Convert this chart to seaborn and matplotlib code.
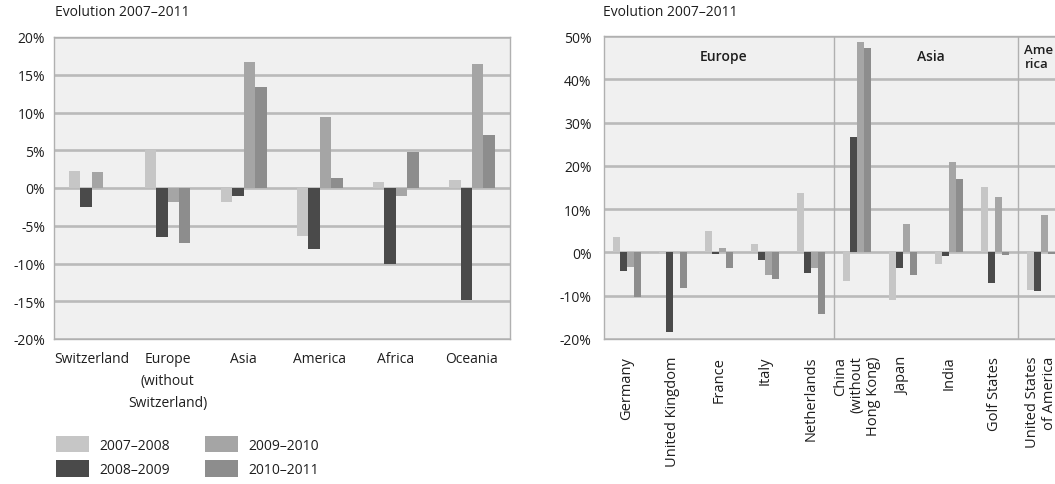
import matplotlib
matplotlib.use("Agg")
import matplotlib.pyplot as plt
import seaborn as sns
import pandas as pd
from matplotlib.patches import Patch
from matplotlib.ticker import FuncFormatter, MultipleLocator, FixedLocator

# ---- data ---------------------------------------------------------------
periods = ["2007–2008", "2008–2009", "2009–2010", "2010–2011"]
period_colors = ["#c6c6c6", "#4a4a4a", "#a5a5a5", "#8d8d8d"]

regions = ["Switzerland", "Europe\n(without\nSwitzerland)", "Asia",
           "America", "Africa", "Oceania"]
region_2007_08 = [2.3, 5.0, -1.9, -6.4, 0.8, 1.1]
region_2008_09 = [-2.5, -6.5, -1.0, -8.1, -10.0, -14.9]
region_2009_10 = [2.1, -1.9, 16.7, 9.4, -1.1, 16.4]
region_2010_11 = [0.0, -7.3, 13.4, 1.3, 4.8, 7.0]

countries = ["Germany", "United Kingdom", "France", "Italy", "Netherlands",
             "China\n(without\nHong Kong)", "Japan", "India", "Golf States",
             "United States\nof America"]
country_2007_08 = [3.6, -0.3, 5.0, 2.0, 13.8, -6.6, -10.9, -2.7, 15.1, -8.6]
country_2008_09 = [-4.3, -18.4, -0.3, -1.7, -4.8, 26.6, -3.7, -0.9, -7.1, -8.8]
country_2009_10 = [-3.3, 0.2, 1.0, -5.3, -3.5, 48.6, 6.6, 21.0, 12.8, 8.6]
country_2010_11 = [-10.3, -8.2, -3.6, -6.1, -14.2, 47.2, -5.3, 17.0, -0.6, -0.4]

country_groups = ["Europe", "Asia", "Ame\nrica"]
group_sizes = [5, 4, 1]

title_text = "Evolution 2007–2011"


def long_table(categories, series):
    rows = []
    for period, values in zip(periods, series):
        for cat, v in zip(categories, values):
            rows.append({"category": cat, "period": period, "value": v})
    return pd.DataFrame(rows)


# ---- style ----------------------------------------------------------------
sns.set_style("white")
plt.rcParams["font.family"] = ["Open Sans", "DejaVu Sans"]
plt.rcParams["font.size"] = 10
text_color = "#1e1e1e"
frame_color = "#b0b0b0"
grid_color = "#bababa"
panel_color = "#f0f0f0"
fs = 10

W, H = 1055, 485
fig = plt.figure(figsize=(W / 100, H / 100), dpi=100)
fig.patch.set_facecolor("white")


def px_axes(left, top, right, bottom):
    return fig.add_axes([left / W, 1 - bottom / H, (right - left) / W, (bottom - top) / H])


def style_axes(ax, step):
    ax.set_facecolor(panel_color)
    for s in ax.spines.values():
        s.set_color(frame_color)
        s.set_linewidth(1.0)
    ax.yaxis.set_major_locator(MultipleLocator(step))
    ax.yaxis.set_major_formatter(FuncFormatter(lambda v, p: f"{int(round(v))}%"))
    ax.grid(axis="y", color=grid_color, linewidth=1.9)
    ax.grid(axis="x", visible=False)
    ax.set_axisbelow(True)
    ax.set_xlabel("")
    ax.set_ylabel("")


# ---- left panel: regions ---------------------------------------------------
ax1 = px_axes(53.5, 38, 510, 340)
df1 = long_table(regions, [region_2007_08, region_2008_09, region_2009_10, region_2010_11])
sns.barplot(data=df1, x="category", y="value", hue="period", order=regions,
            hue_order=periods, palette=period_colors, saturation=1, width=0.6,
            linewidth=0, legend=False, ax=ax1)
style_axes(ax1, 5)
ax1.set_ylim(-20, 20)
ax1.set_xlim(-0.5, len(regions) - 0.5)
ax1.tick_params(axis="y", length=0, pad=6, labelsize=fs, labelcolor=text_color)
ax1.tick_params(axis="x", length=0, pad=9, labelsize=fs, labelcolor=text_color)
for lbl in ax1.get_xticklabels():
    lbl.set_linespacing(1.6)
    lbl.set_verticalalignment("top")

fig.text(55 / W, 1 - 12 / H, title_text, fontsize=fs, color=text_color, va="center")

handles = [Patch(facecolor=c, edgecolor="none") for c in period_colors]
fig.legend(handles, periods, ncol=2, loc="upper left",
           bbox_to_anchor=(56 / W, 1 - 437 / H), frameon=False, fontsize=fs,
           handlelength=2.4, handleheight=1.45, handletextpad=0.75,
           columnspacing=2.5, labelspacing=0.55, borderpad=0, borderaxespad=0,
           labelcolor=text_color)

# ---- right panel: countries ----------------------------------------------
ax2 = px_axes(604, 37, 1064, 340)
df2 = long_table(countries, [country_2007_08, country_2008_09, country_2009_10, country_2010_11])
sns.barplot(data=df2, x="category", y="value", hue="period", order=countries,
            hue_order=periods, palette=period_colors, saturation=1, width=0.6,
            linewidth=0, legend=False, ax=ax2)
style_axes(ax2, 10)
ax2.set_ylim(-20, 50)
ax2.set_xlim(-0.5, len(countries) - 0.5)
ax2.tick_params(axis="y", length=4, width=1, color=frame_color, pad=5,
                labelsize=fs, labelcolor=text_color)
ax2.tick_params(axis="x", which="major", length=0, pad=12, labelsize=10.5,
                labelcolor=text_color)
ax2.xaxis.set_minor_locator(FixedLocator([i - 0.5 for i in range(len(countries) + 1)]))
ax2.tick_params(axis="x", which="minor", length=4, width=1, color=frame_color)
for lbl in ax2.get_xticklabels():
    lbl.set_rotation(90)
    lbl.set_horizontalalignment("center")
    lbl.set_verticalalignment("top")
    lbl.set_multialignment("right")
    lbl.set_linespacing(1.15)

# region dividers and region names along the top of the panel
start = 0
for name, size in zip(country_groups, group_sizes):
    end = start + size
    if end < len(countries):
        ax2.axvline(end - 0.5, color=frame_color, linewidth=1.0)
        ax2.text((start + end - 1) / 2 + 0.1, 45.3, name, ha="center", va="center",
                 fontsize=fs, fontweight="semibold", color=text_color)
    else:
        # last, narrow region: name starts just right of its divider
        ax2.text(start - 0.36, 45.3, name, ha="left", va="center",
                 fontsize=9.5, fontweight="semibold", color=text_color,
                 linespacing=1.1, multialignment="left")
    start = end

fig.text(603 / W, 1 - 12 / H, title_text, fontsize=fs, color=text_color, va="center")

fig.savefig("out.png", dpi=100, facecolor="white")
